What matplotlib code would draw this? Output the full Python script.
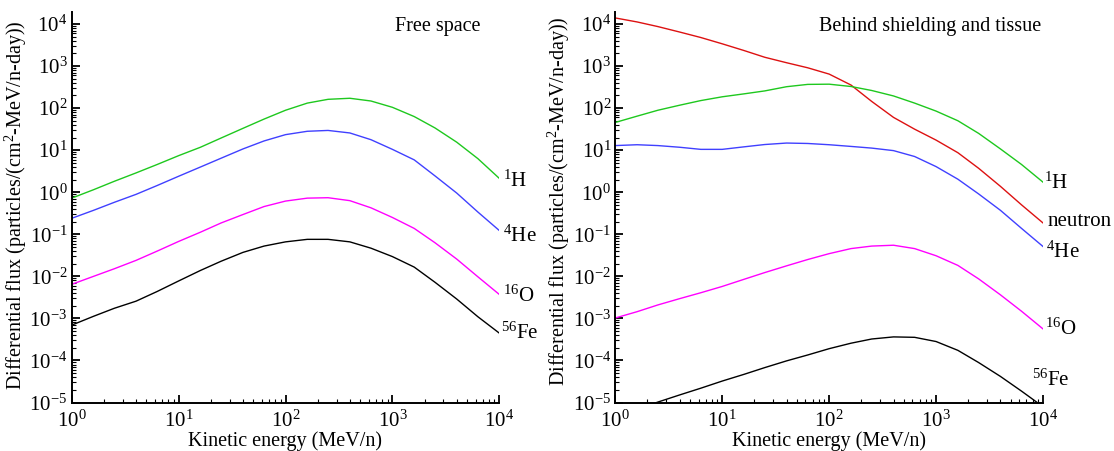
import numpy as np
import matplotlib
matplotlib.use("Agg")
import matplotlib.pyplot as plt

plt.rcParams['font.family'] = ['Liberation Serif', 'DejaVu Serif']
plt.rcParams['mathtext.fontset'] = 'custom'
plt.rcParams['mathtext.rm'] = 'Liberation Serif'
plt.rcParams['mathtext.it'] = 'Liberation Serif:italic'
plt.rcParams['mathtext.bf'] = 'Liberation Serif:bold'

# Kinetic energy grid (MeV/n)
energy = [1, 1.6, 2.5, 4, 6.3, 10, 16, 25, 40, 63, 100, 160, 250, 400, 630,
          1000, 1600, 2500, 4000, 6300, 10000]

# Free space: log10 of differential flux (particles/(cm^2-MeV/n-day))
free_H = [-0.14, 0.06, 0.26, 0.46, 0.66, 0.87, 1.07, 1.29, 1.52, 1.74, 1.95,
          2.12, 2.21, 2.235, 2.17, 2.02, 1.80, 1.53, 1.19, 0.80, 0.33]
free_He = [-0.62, -0.43, -0.24, -0.05, 0.16, 0.38, 0.60, 0.81, 1.03, 1.22, 1.37,
           1.45, 1.47, 1.41, 1.25, 1.02, 0.77, 0.39, -0.02, -0.47, -0.91]
free_O = [-2.19, -2.00, -1.82, -1.62, -1.40, -1.17, -0.95, -0.73, -0.53, -0.34, -0.21,
          -0.14, -0.13, -0.20, -0.37, -0.60, -0.86, -1.20, -1.59, -2.01, -2.43]
free_Fe = [-3.16, -2.95, -2.76, -2.59, -2.36, -2.11, -1.86, -1.64, -1.43, -1.28, -1.18,
           -1.12, -1.12, -1.18, -1.33, -1.53, -1.78, -2.14, -2.54, -2.96, -3.35]

# Behind shielding and tissue: log10 of differential flux
sh_n = [4.145, 4.05, 3.94, 3.81, 3.68, 3.53, 3.37, 3.21, 3.08, 2.96, 2.81,
        2.55, 2.16, 1.78, 1.50, 1.24, 0.94, 0.57, 0.14, -0.30, -0.73]
sh_H = [1.66, 1.81, 1.95, 2.07, 2.18, 2.27, 2.34, 2.41, 2.51, 2.565, 2.57,
        2.515, 2.42, 2.29, 2.12, 1.93, 1.70, 1.40, 1.03, 0.66, 0.24]
sh_He = [1.11, 1.13, 1.11, 1.07, 1.02, 1.02, 1.08, 1.135, 1.17, 1.16, 1.13,
         1.09, 1.05, 0.99, 0.85, 0.61, 0.31, -0.04, -0.43, -0.86, -1.29]
sh_O = [-2.99, -2.84, -2.68, -2.53, -2.39, -2.24, -2.07, -1.91, -1.75, -1.60, -1.46,
        -1.34, -1.28, -1.26, -1.34, -1.51, -1.74, -2.06, -2.44, -2.83, -3.25]
sh_Fe = [-5.33, -5.16, -4.99, -4.82, -4.66, -4.49, -4.33, -4.17, -4.01, -3.87, -3.72,
         -3.59, -3.49, -3.44, -3.45, -3.55, -3.76, -4.05, -4.38, -4.73, -5.10]

col_H = '#1ec81e'
col_He = '#4040ff'
col_O = '#ff00ff'
col_Fe = '#000000'
col_n = '#dd1111'

W, H = 1114, 451
fig = plt.figure(figsize=(W / 100, H / 100), dpi=100)

Y_TOP, Y_BOT, DEC = 11.5, 402.5, 42.05   # pixel rows of axes top/bottom, px per decade
ytop_exp = 4 + (Y_BOT - 9 * DEC - Y_TOP) / DEC

def px_axes(x0, x1, y0, y1):
    return fig.add_axes([x0 / W, 1 - y1 / H, (x1 - x0) / W, (y1 - y0) / H])

axL = px_axes(71.7, 499.3, Y_TOP, Y_BOT)
axR = px_axes(615.3, 1043, Y_TOP, Y_BOT)
AH = Y_BOT - Y_TOP

E = np.array(energy)
series_L = [(free_H, col_H), (free_He, col_He), (free_O, col_O), (free_Fe, col_Fe)]
series_R = [(sh_n, col_n), (sh_H, col_H), (sh_He, col_He), (sh_O, col_O), (sh_Fe, col_Fe)]

for ax, series, ylab_c in ((axL, series_L, 205.3), (axR, series_R, 201.5)):
    for vals, c in series:
        ax.plot(E, 10.0 ** np.array(vals), color=c, lw=1.0)
    ax.set_xscale('log')
    ax.set_yscale('log')
    ax.set_xlim(1, 1e4)
    ax.set_ylim(1e-5, 10.0 ** ytop_exp)
    ax.set_yticks([10.0 ** k for k in range(-5, 5)])
    ax.set_xticks([10.0 ** k for k in range(0, 5)])
    ax.yaxis.set_minor_locator(matplotlib.ticker.LogLocator(base=10, subs=np.arange(2, 10), numticks=30))
    ax.xaxis.set_minor_locator(matplotlib.ticker.LogLocator(base=10, subs=np.arange(2, 10), numticks=30))
    ax.yaxis.set_minor_formatter(matplotlib.ticker.NullFormatter())
    ax.xaxis.set_minor_formatter(matplotlib.ticker.NullFormatter())
    ax.spines['top'].set_visible(False)
    ax.spines['right'].set_visible(False)
    for s in ('left', 'bottom'):
        ax.spines[s].set_linewidth(1.4)
    ax.tick_params(which='major', direction='in', length=6, width=1.3, labelsize=15, pad=3)
    ax.tick_params(which='minor', direction='in', length=3, width=0.8)
    ax.tick_params(axis='x', which='major', pad=6)
    ax.set_xlabel('Kinetic energy (MeV/n)', fontsize=14.5)
    ax.set_ylabel(r'Differential flux (particles/(cm$^{2}$-MeV/n-day))', fontsize=14.5)
    ax.xaxis.set_label_coords(0.5, -(431.5 - Y_BOT) / AH)
    ax.yaxis.set_label_coords(-43.0 / 427.6, (Y_BOT - ylab_c) / AH)

axL.text(0.957, (Y_BOT - 26) / AH, 'Free space', transform=axL.transAxes, ha='right', va='center', fontsize=14.5)
axR.text(0.995, (Y_BOT - 27) / AH, 'Behind shielding and tissue', transform=axR.transAxes, ha='right', va='center', fontsize=14.5)

def lab(x, y, s):
    fig.text(x / W, 1 - y / H, s, ha='left', va='center', fontsize=15)

lab(503, 181, r'$^{1}$H')
lab(503, 236, r'$^{4}$He')
lab(503, 296, r'$^{16}$O')
lab(501, 333, r'$^{56}$Fe')

lab(1044, 183, r'$^{1}$H')
lab(1048, 222, 'neutron')
lab(1046, 252, r'$^{4}$He')
lab(1045, 329, r'$^{16}$O')
lab(1032, 380, r'$^{56}$Fe')

fig.savefig('out.png', dpi=100)
